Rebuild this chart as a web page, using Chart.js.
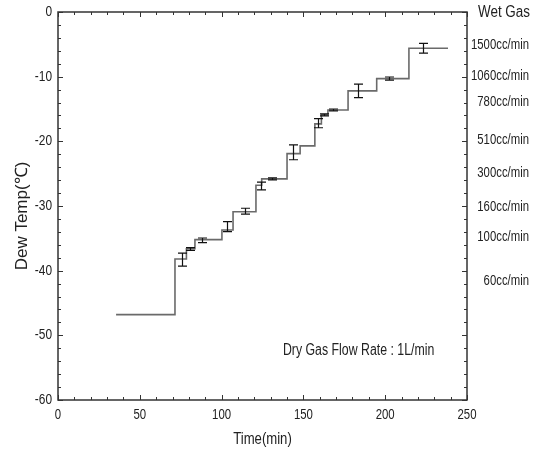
<!DOCTYPE html>
<html>
<head>
<meta charset="utf-8">
<script src="https://cdn.jsdelivr.net/npm/chart.js@4.4.0/dist/chart.umd.min.js"></script>
<style>
  body { margin: 0; background: #fff; }
  #wrap { width: 541px; height: 456px; }
</style>
</head>
<body>
<div id="wrap"><canvas id="dew"></canvas></div>
<script>
// step levels: each value holds from its start time until the next one
const stepTimes = [35.5, 71.5, 78.5, 83.7, 100.2, 107, 121, 124.5, 140, 148, 157, 161, 165, 177.3, 194.8, 214.5, 238.4];
const stepTemps = [-46.8, -38.2, -36.6, -35.2, -33.7, -30.9, -26.8, -25.8, -21.9, -20.7, -17.3, -15.9, -15.15, -12.2, -10.3, -5.6, -5.6];

// error bars (centre +/- half range)
const errTimes = [76.1, 80.7, 88, 103.3, 114.3, 123.9, 130.8, 143.5, 158.7, 162.6, 168, 183.2, 202.3, 223.4];
const errMid   = [-38.3, -36.65, -35.3, -33.2, -30.8, -26.9, -25.8, -21.7, -17.2, -15.9, -15.15, -12.2, -10.3, -5.6];
const errHalf  = [1.0, 0.2, 0.35, 0.77, 0.45, 0.6, 0.15, 1.15, 0.7, 0.15, 0.15, 1.05, 0.25, 0.75];

// wet gas flow labels on the right
const wetLabels = ["1500cc/min", "1060cc/min", "780cc/min", "510cc/min", "300cc/min", "160cc/min", "100cc/min", "60cc/min"];
const wetLevels = [-5.1, -9.9, -13.9, -19.8, -24.9, -30.2, -34.8, -41.6];

const FONT = "'Liberation Sans', Arial, sans-serif";
const INK = "#222";

// text squeezed sideways, the original uses a narrow face
function narrow(ctx, text, x, y, size, sx, align) {
  ctx.save();
  ctx.translate(x, y);
  ctx.scale(sx, 1);
  ctx.font = size + "px " + FONT;
  ctx.textAlign = align;
  ctx.textBaseline = "middle";
  ctx.fillText(text, 0, 0);
  ctx.restore();
}

const framePlugin = {
  id: "frame",
  afterDatasetsDraw(chart) {
    const { ctx, chartArea: a, scales: { x, y } } = chart;
    ctx.save();

    // error bars
    ctx.strokeStyle = "#111";
    ctx.lineWidth = 1.2;
    errTimes.forEach((t, i) => {
      const px = Math.round(x.getPixelForValue(t)) + 0.5;
      const top = y.getPixelForValue(errMid[i] + errHalf[i]);
      const bot = y.getPixelForValue(errMid[i] - errHalf[i]);
      ctx.beginPath();
      ctx.moveTo(px, top); ctx.lineTo(px, bot);
      ctx.moveTo(px - 4.5, top); ctx.lineTo(px + 4.5, top);
      ctx.moveTo(px - 4.5, bot); ctx.lineTo(px + 4.5, bot);
      ctx.stroke();
    });

    // box
    ctx.strokeStyle = "#333";
    ctx.lineWidth = 1.5;
    ctx.strokeRect(a.left, a.top, a.right - a.left, a.bottom - a.top);

    // inward ticks on all four sides
    ctx.lineWidth = 1;
    ctx.beginPath();
    x.ticks.forEach(tk => {
      const px = Math.round(x.getPixelForValue(tk.value)) + 0.5;
      const len = tk.value % 50 === 0 ? 5 : 3;
      ctx.moveTo(px, a.bottom); ctx.lineTo(px, a.bottom - len);
      ctx.moveTo(px, a.top); ctx.lineTo(px, a.top + len);
    });
    y.ticks.forEach(tk => {
      const py = Math.round(y.getPixelForValue(tk.value)) + 0.5;
      const len = tk.value % 10 === 0 ? 5 : 3;
      ctx.moveTo(a.left, py); ctx.lineTo(a.left + len, py);
      ctx.moveTo(a.right, py); ctx.lineTo(a.right - len, py);
    });
    ctx.stroke();

    ctx.fillStyle = INK;
    // tick labels
    x.ticks.forEach(tk => {
      if (tk.value % 50 === 0) narrow(ctx, String(tk.value), x.getPixelForValue(tk.value), a.bottom + 15, 15, 0.76, "center");
    });
    y.ticks.forEach(tk => {
      if (tk.value % 10 === 0) narrow(ctx, String(tk.value), a.left - 6, y.getPixelForValue(tk.value), 14, 0.85, "right");
    });

    // axis titles
    narrow(ctx, "Time(min)", (a.left + a.right) / 2, 440, 16, 0.82, "center");
    ctx.save();
    ctx.translate(22, (a.top + a.bottom) / 2 + 10);
    ctx.rotate(-Math.PI / 2);
    ctx.font = "17px " + FONT;
    ctx.textAlign = "center";
    ctx.textBaseline = "middle";
    ctx.fillText("Dew Temp(℃)", 0, 0);
    ctx.restore();

    // right side labels
    narrow(ctx, "Wet Gas", 530, a.top + 1, 16, 0.84, "right");
    wetLabels.forEach((lab, i) => {
      narrow(ctx, lab, 529, y.getPixelForValue(wetLevels[i]), 14, 0.81, "right");
    });

    // note
    narrow(ctx, "Dry Gas Flow Rate : 1L/min", x.getPixelForValue(137.5), y.getPixelForValue(-52.4), 16, 0.77, "left");
    ctx.restore();
  }
};

new Chart(document.getElementById("dew"), {
  type: "line",
  data: {
    datasets: [{
      data: stepTimes.map((t, i) => ({ x: t, y: stepTemps[i] })),
      stepped: "before",
      borderColor: "#6a6a6a",
      borderWidth: 1.6,
      pointRadius: 0,
      fill: false
    }]
  },
  options: {
    responsive: true,
    maintainAspectRatio: false,
    animation: false,
    layout: { padding: { top: 12, right: 74, left: 0, bottom: 0 } },
    plugins: { legend: { display: false }, tooltip: { enabled: false } },
    scales: {
      x: {
        type: "linear",
        min: 0, max: 250,
        grid: { display: false, drawTicks: false },
        border: { display: false },
        ticks: { display: false, stepSize: 10, autoSkip: false },
        afterFit: s => { s.height = 56; }
      },
      y: {
        min: -60, max: 0,
        grid: { display: false, drawTicks: false },
        border: { display: false },
        ticks: { display: false, stepSize: 2, autoSkip: false },
        afterFit: s => { s.width = 58; }
      }
    }
  },
  plugins: [framePlugin]
});
</script>
</body>
</html>
